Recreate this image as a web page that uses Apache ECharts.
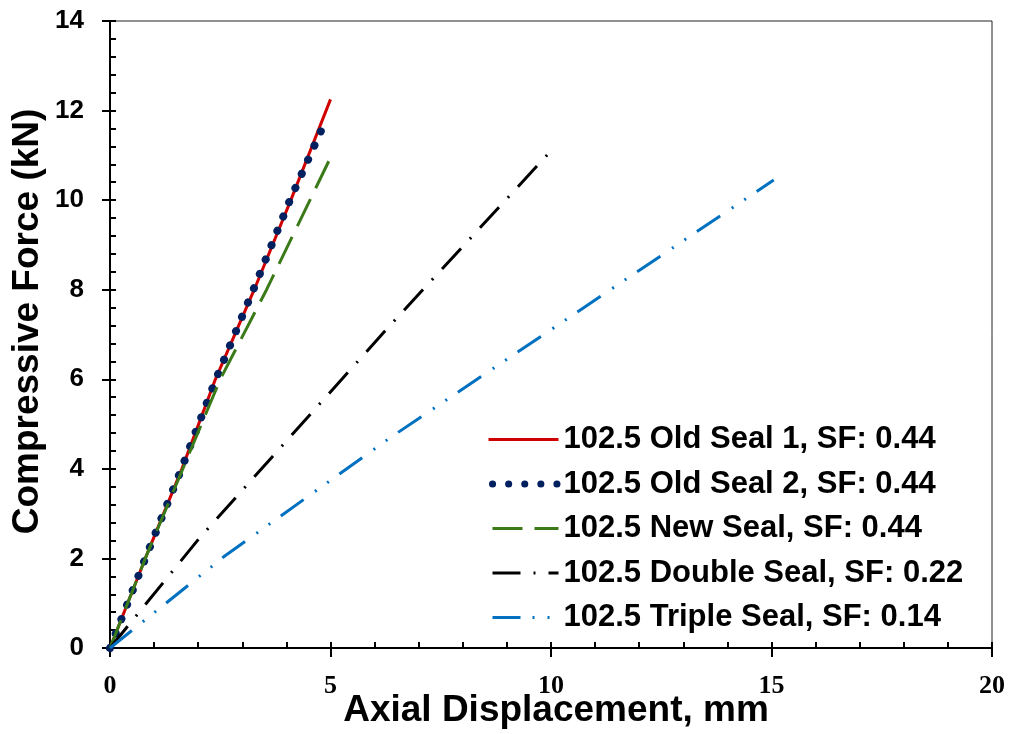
<!DOCTYPE html>
<html>
<head>
<meta charset="utf-8">
<script src="https://cdn.jsdelivr.net/npm/echarts@6/dist/echarts.min.js"></script>
<style>html,body{margin:0;padding:0;background:#fff;}#c{width:1013px;height:734px;}</style>
</head>
<body>
<div id="c"></div>
<script>
// Data (x: axial displacement mm, y: compressive force kN)
const seriesNames = [
  '102.5 Old Seal 1, SF: 0.44',
  '102.5 Old Seal 2, SF: 0.44',
  '102.5 New Seal, SF: 0.44',
  '102.5 Double Seal, SF: 0.22',
  '102.5 Triple Seal, SF: 0.14'
];
const xOld1 = [0, 0.8, 1.63, 2.39, 3.27, 4.1, 5.0];
const yOld1 = [0, 2.0, 4.0, 6.0, 8.0, 10.0, 12.25];
const xOld2 = [0, 0.8, 1.62, 2.4, 3.25, 4.08, 4.9];
const yOld2 = [0, 2.0, 4.0, 6.0, 8.0, 10.0, 11.8];
const xNew = [0, 0.8, 1.65, 2.5, 3.55, 5.0];
const yNew = [0, 2.0, 4.0, 6.0, 8.0, 10.95];
const xDouble = [0, 2.05, 6.43, 10.0];
const yDouble = [0, 2.48, 7.29, 11.1];
const xTriple = [0, 2.61, 6.36, 15.05];
const yTriple = [0, 2.06, 4.7, 10.45];
const xTicks = [0, 5, 10, 15, 20];
const yTicks = [0, 2, 4, 6, 8, 10, 12, 14];

const zip = (xs, ys) => xs.map((x, i) => [x, ys[i]]);

const chart = echarts.init(document.getElementById('c'), null, {renderer: 'canvas'});
const sans = 'Liberation Sans, Arial, sans-serif';
const serif = 'Liberation Serif, Times New Roman, serif';

const styles = [
  {color: '#D00000', width: 3, type: 'solid', cap: 'butt'},
  {color: '#002060', width: 8, type: [0.1, 15.4], cap: 'round'},
  {color: '#3A7A18', width: 3, type: [30, 12], cap: 'butt'},
  {color: '#000000', width: 3, type: [28, 13, 2, 13], cap: 'butt'},
  {color: '#0070C0', width: 3, type: [28, 14, 2, 13, 2, 13], cap: 'butt'}
];
const legendStyles = [
  {color: '#D00000', width: 3, type: 'solid', cap: 'butt'},
  {color: '#002060', width: 7, type: [0.1, 16], cap: 'round', dashOffset: -4},
  {color: '#3A7A18', width: 3, type: [30, 12], cap: 'butt'},
  {color: '#000000', width: 3, type: [28, 13, 2, 13], cap: 'butt'},
  {color: '#0070C0', width: 3, type: [28, 12, 2, 13, 2, 13], cap: 'butt'}
];
const datasets = [zip(xOld1, yOld1), zip(xOld2, yOld2), zip(xNew, yNew), zip(xDouble, yDouble), zip(xTriple, yTriple)];

const option = {
  animation: false,
  backgroundColor: '#fff',
  grid: {left: 110, right: 21, top: 21, bottom: 86, show: true, borderColor: '#222', borderWidth: 1,
    backgroundColor: 'transparent', outerBoundsMode: 'none', containLabel: false},
  legend: {
    orient: 'vertical', left: 480, top: 419,
    itemWidth: 70, itemHeight: 20, itemGap: 13.5,
    textStyle: {fontFamily: sans, fontWeight: 'bold', fontSize: 31, color: '#000'},
    itemStyle: {opacity: 0},
    data: seriesNames.map((n, i) => ({name: n, itemStyle: {opacity: 0}, lineStyle: legendStyles[i]})),
    selectedMode: false
  },
  xAxis: [{
    type: 'value', min: 0, max: 20, interval: 5,
    name: 'Axial Displacement, mm', nameLocation: 'middle', nameGap: 44, nameMoveOverlap: false,
    nameTextStyle: {fontFamily: sans, fontWeight: 'bold', fontSize: 37, color: '#000', padding: [0, 0, 0, 10]},
    axisLine: {show: true, onZero: false, lineStyle: {color: '#000', width: 2}},
    axisTick: {show: true, inside: true, length: 6, lineStyle: {color: '#000', width: 2}},
    minorTick: {show: true, splitNumber: 5, length: 6, lineStyle: {color: '#000', width: 2}},
    splitLine: {show: false},
    axisLabel: {fontFamily: serif, fontWeight: 'bold', fontSize: 26, color: '#000', margin: 25,
      formatter: v => xTicks.includes(v) ? String(v) : ''}
  }, {
    type: 'value', min: 0, max: 20, interval: 5, position: 'bottom',
    axisLine: {show: false},
    axisTick: {show: true, inside: false, length: 9, lineStyle: {color: '#000', width: 2}},
    axisLabel: {show: false}, splitLine: {show: false}
  }],
  yAxis: [{
    type: 'value', min: 0, max: 14, interval: 2,
    name: 'Compressive Force (kN)', nameLocation: 'middle', nameGap: 64, nameRotate: 90, nameMoveOverlap: false,
    nameTextStyle: {fontFamily: sans, fontWeight: 'bold', fontSize: 37, color: '#000', padding: [0, 0, 0, 26]},
    axisLine: {show: true, onZero: false, lineStyle: {color: '#000', width: 2}},
    axisTick: {show: true, inside: true, length: 6, lineStyle: {color: '#000', width: 2}},
    minorTick: {show: true, splitNumber: 5, length: 6, lineStyle: {color: '#000', width: 2}},
    splitLine: {show: false},
    axisLabel: {fontFamily: sans, fontWeight: 'bold', fontSize: 26, color: '#000', margin: 26,
      formatter: v => yTicks.includes(v) ? String(v) : ''}
  }, {
    type: 'value', min: 0, max: 14, interval: 2, position: 'left',
    axisLine: {show: false},
    axisTick: {show: true, inside: false, length: 8, lineStyle: {color: '#000', width: 2}},
    axisLabel: {show: false}, splitLine: {show: false}
  }],
  series: seriesNames.map((n, i) => ({
    name: n, type: 'line', data: datasets[i], symbol: 'none', showSymbol: false,
    lineStyle: styles[i], itemStyle: {color: styles[i].color},
    emphasis: {disabled: true}, silent: true, animation: false
  }))
};
chart.setOption(option);
</script>
</body>
</html>
